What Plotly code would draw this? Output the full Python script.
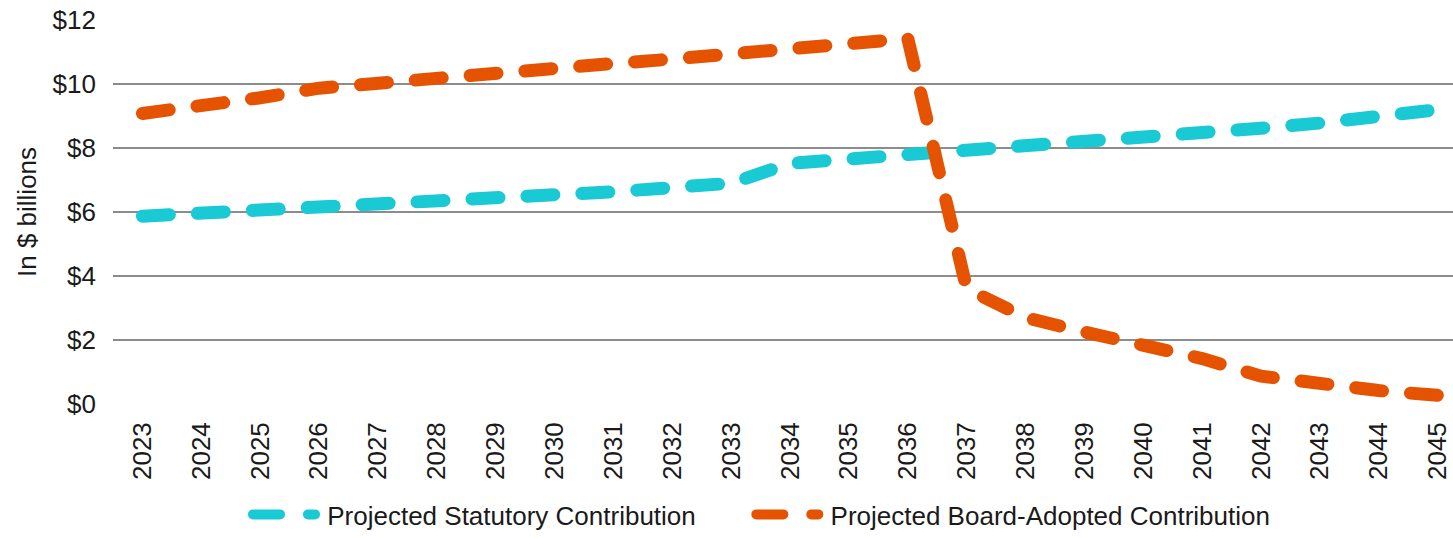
import plotly.graph_objects as go

years = list(range(2023, 2046))
statutory = [5.87, 5.98, 6.08, 6.17, 6.21, 6.32, 6.43, 6.54, 6.63, 6.75, 6.90, 7.52,
             7.65, 7.78, 7.92, 8.03, 8.15, 8.29, 8.45, 8.62, 8.78, 8.97, 9.20]
board = [9.08, 9.30, 9.57, 9.87, 10.04, 10.17, 10.33, 10.50, 10.64, 10.78, 10.95, 11.10,
         11.25, 11.42, 3.60, 2.70, 2.25, 1.87, 1.42, 0.87, 0.60, 0.42, 0.27]
y_ticks = [0, 2, 4, 6, 8, 10, 12]
y_labels = ["$0", "$2", "$4", "$6", "$8", "$10", "$12"]

CYAN = "#19C9D3"
ORANGE = "#E55300"
FONT = "Liberation Sans, Arial, sans-serif"
TXT = "#1a1a1a"
FS = 26
NB = "\u00a0"

fig = go.Figure()
fig.add_trace(go.Scatter(x=years, y=statutory, mode="lines",
                         name=NB + "Projected Statutory Contribution" + NB * 7,
                         line=dict(color=CYAN, width=13, dash="27px,28px")))
fig.add_trace(go.Scatter(x=years, y=board, mode="lines",
                         name=NB + "Projected Board-Adopted Contribution",
                         line=dict(color=ORANGE, width=13, dash="27px,28px")))

fig.update_layout(
    width=1453, height=538,
    margin=dict(l=113, r=0, t=20, b=134),
    paper_bgcolor="white", plot_bgcolor="white",
    font=dict(family=FONT, size=FS, color=TXT),
    showlegend=True,
    legend=dict(orientation="h", x=(248 - 113) / 1340, xanchor="left",
                yref="container", y=0, yanchor="bottom",
                font=dict(size=FS, color=TXT), itemwidth=62,
                traceorder="normal"),
)
fig.update_xaxes(
    range=[2022.5, 2045.26], tickmode="array", tickvals=years,
    ticktext=[str(y) for y in years], tickangle=-90,
    showgrid=False, zeroline=False, showline=False,
    ticks="", ticklabelstandoff=12, automargin=False,
    ticklabeloverflow="allow",
    tickfont=dict(size=FS, color=TXT),
)
fig.update_yaxes(
    range=[0, 12], tickmode="array", tickvals=y_ticks, ticktext=y_labels,
    showgrid=True, gridcolor="#8c8c8c", gridwidth=2, zeroline=False,
    showline=False, ticks="", ticklabelstandoff=16, automargin=False,
    tickfont=dict(size=FS, color=TXT),
    title=dict(text="In $ billions", font=dict(size=FS, color=TXT), standoff=8),
)

post = """
var gd = document.getElementById('{plot_id}');
function fixCaps(){
  gd.querySelectorAll('path.js-line').forEach(function(p){
    p.style.strokeLinecap = 'round';
  });
}
fixCaps();
gd.on('plotly_afterplot', fixCaps);
"""
fig.write_html("out.html", post_script=post)
